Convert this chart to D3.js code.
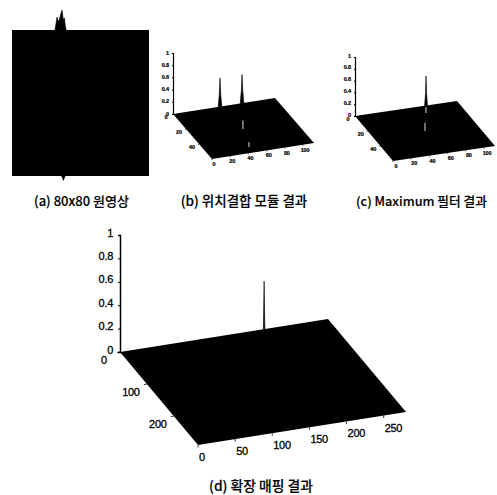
<!DOCTYPE html>
<html>
<head>
<meta charset="utf-8">
<script src="https://cdn.jsdelivr.net/npm/d3@7"></script>
<style>
  html, body { margin: 0; padding: 0; background: #fff; }
  svg { display: block; }
  text { fill: #000; font-family: "Liberation Sans", sans-serif; }
  .caption { font-family: "Noto Sans CJK KR", "Liberation Sans", sans-serif; font-weight: 500; stroke: #000; stroke-width: 0.15; }
</style>
</head>
<body>
<svg id="chart" width="497" height="495"></svg>
<script>
// tick labels
const zTicks = [0, 0.2, 0.4, 0.6, 0.8, 1];
const smallXTicks = [0, 20, 40, 60, 80, 100];
const smallYTicks = [0, 20, 40];
const largeXTicks = [0, 50, 100, 150, 200, 250];
const largeYTicks = [0, 100, 200];

// (a) spike cluster on the far edge of the 80x80 image
const spikeAX = [25.1, 26.3, 27, 27.6, 28.3, 29.2, 30, 30.6, 31, 31.6];
const spikeAZ = [0, 0.65, 0.45, 0.5, 0.75, 1, 0.5, 0.6, 0.3, 0];
const spikeABelowX = [29, 30, 31];
const spikeABelowZ = [0, -0.22, 0];

// (b) two peaks
const spikeB1X = [49.6, 50.8, 51.6, 52.4, 53.6];
const spikeB1Z = [0, 0.2, 0.47, 0.2, 0];
const spikeB2X = [73.8, 75, 75.8, 76.6, 77.8];
const spikeB2Z = [0, 0.2, 0.47, 0.2, 0];

// (c) one peak
const spikeCX = [76.4, 77.4, 78, 78.6, 79.6];
const spikeCZ = [0, 0.2, 0.5, 0.2, 0];

// (d) mapped peak
const spikeDX = [193, 194, 195];
const spikeDZ = [0, 0.41, 0];

// small light flaws on the dark floor: x, y, height
const flawsB = [[55, 30.5, 0.14], [45.8, 52.7, 0.08]];
const flawsC = [[56, 30, 0.14], [71.8, 8.8, 0.1]];

const captions = {
  a: '(a) 80x80 원영상',
  b: '(b) 위치결합 모듈 결과',
  c: '(c) Maximum 필터 결과',
  d: '(d) 확장 매핑 결과',
};

const panels = [
  {
    key: 'a', origin: [12, 30], xEnd: [149, 30], yEnd: [12, 176], zTop: 10,
    xMax: 80, yMax: 80,
    spikes: [
      { x: spikeAX, z: spikeAZ, y: 0 },
      { x: spikeABelowX, z: spikeABelowZ, y: 80 },
    ],
    flaws: [],
    caption: [81.5, 200], captionSize: 13,
  },
  {
    key: 'b', origin: [173, 114], xEnd: [275, 98], yEnd: [212, 159], zTop: 53,
    xMax: 112, yMax: 60, xTicks: smallXTicks, yTicks: smallYTicks,
    fontSize: 5.5, weight: 'bold', xDx: 2, xDy: 5, yDx: -7, yDy: 3, zDx: -4, zDy: -1,
    spikes: [
      { x: spikeB1X, z: spikeB1Z, y: 0 },
      { x: spikeB2X, z: spikeB2Z, y: 0 },
    ],
    flaws: flawsB,
    caption: [244, 200], captionSize: 13.5,
  },
  {
    key: 'c', origin: [355, 116], xEnd: [457, 101], yEnd: [393, 161], zTop: 57,
    xMax: 112, yMax: 60, xTicks: smallXTicks, yTicks: smallYTicks,
    fontSize: 5.5, weight: 'bold', xDx: 3, xDy: 5, yDx: -7, yDy: 3, zDx: -4, zDy: -2,
    spikes: [{ x: spikeCX, z: spikeCZ, y: 0 }],
    flaws: flawsC,
    caption: [421.5, 200], captionSize: 12.7,
  },
  {
    key: 'd', origin: [120, 352], xEnd: [328, 319], yEnd: [198, 445], zTop: 235,
    xMax: 280, yMax: 290, xTicks: largeXTicks, yTicks: largeYTicks,
    fontSize: 11, weight: 'normal', xDx: 1, xDy: 12, yDx: -16, yDy: 8, zDx: -7, zDy: -3,
    spikes: [{ x: spikeDX, z: spikeDZ, y: 0 }],
    flaws: [],
    caption: [261, 485], captionSize: 13.8,
  },
];

const svg = d3.select('#chart');
const outline = d3.line();

function drawPanel(p) {
  const g = svg.append('g').attr('class', `panel-${p.key}`);
  const large = p.fontSize > 6;

  // linear oblique projection: each data axis moves the point along its own edge
  const xToPx = d3.scaleLinear().domain([0, p.xMax]).range([0, p.xEnd[0] - p.origin[0]]);
  const xToPy = d3.scaleLinear().domain([0, p.xMax]).range([0, p.xEnd[1] - p.origin[1]]);
  const yToPx = d3.scaleLinear().domain([0, p.yMax]).range([0, p.yEnd[0] - p.origin[0]]);
  const yToPy = d3.scaleLinear().domain([0, p.yMax]).range([0, p.yEnd[1] - p.origin[1]]);
  const zScale = d3.scaleLinear().domain([0, 1]).range([p.origin[1], p.zTop]);
  const project = (x, y, z) => [
    p.origin[0] + xToPx(x) + yToPx(y),
    zScale(z) + xToPy(x) + yToPy(y),
  ];

  g.append('path')
    .attr('d', outline([
      project(0, 0, 0),
      project(p.xMax, 0, 0),
      project(p.xMax, p.yMax, 0),
      project(0, p.yMax, 0),
    ]) + 'Z')
    .attr('fill', '#000');

  p.spikes.forEach((s) => {
    g.append('path')
      .attr('d', outline(s.x.map((x, i) => project(x, s.y, s.z[i]))) + 'Z')
      .attr('fill', '#000')
      .attr('stroke', '#000')
      .attr('stroke-width', 0.6);
  });

  p.flaws.forEach(([x, y, h]) => {
    g.append('path')
      .attr('d', outline([project(x, y, 0), project(x, y, h)]))
      .attr('stroke', '#ddd')
      .attr('stroke-width', 1);
  });

  if (p.xTicks) {
    const tickStyle = (sel) => sel
      .style('font-size', `${p.fontSize}px`)
      .style('font-weight', p.weight)
      .style('letter-spacing', large ? '-0.3px' : '-0.1px')
      .style('stroke', '#000')
      .style('stroke-width', large ? 0.3 : 0.2)
      .attr('dominant-baseline', 'central');

    // z axis
    const zAxis = g.append('g')
      .attr('transform', `translate(${p.origin[0]},0)`)
      .call(d3.axisLeft(zScale).tickValues(zTicks).tickSize(large ? 2 : 1).tickPadding(0).tickFormat(d3.format('~g')));
    zAxis.select('.domain').attr('stroke', '#000').attr('stroke-width', large ? 1.5 : 1.2);
    zAxis.selectAll('line').attr('stroke', '#000');
    zAxis.selectAll('text')
      .attr('x', p.zDx)
      .attr('dy', null)
      .attr('y', p.zDy)
      .call(tickStyle);

    // x axis along the near edge
    p.xTicks.forEach((t) => {
      const [px, py] = project(t, p.yMax, 0);
      g.append('path').attr('d', outline([[px, py], [px, py + (large ? 2.5 : 1)]]))
        .attr('stroke', '#000').attr('stroke-width', 0.8);
      g.append('text')
        .attr('x', px + p.xDx)
        .attr('y', py + p.xDy)
        .attr('text-anchor', large ? 'start' : 'middle')
        .call(tickStyle)
        .text(t);
    });

    // y axis along the left edge
    p.yTicks.forEach((t) => {
      const [px, py] = project(0, t, 0);
      g.append('path').attr('d', outline([[px, py], [px - (large ? 3 : 1), py + 0.5]]))
        .attr('stroke', '#000').attr('stroke-width', 0.8);
      g.append('text')
        .attr('x', px + p.yDx)
        .attr('y', py + p.yDy)
        .attr('text-anchor', 'middle')
        .call(tickStyle)
        .text(t);
    });
  }

  g.append('text')
    .attr('class', 'caption')
    .attr('x', p.caption[0])
    .attr('y', p.caption[1])
    .attr('text-anchor', 'middle')
    .attr('dominant-baseline', 'central')
    .attr('font-size', p.captionSize)
    .text(captions[p.key]);
}

panels.forEach(drawPanel);
</script>
</body>
</html>
